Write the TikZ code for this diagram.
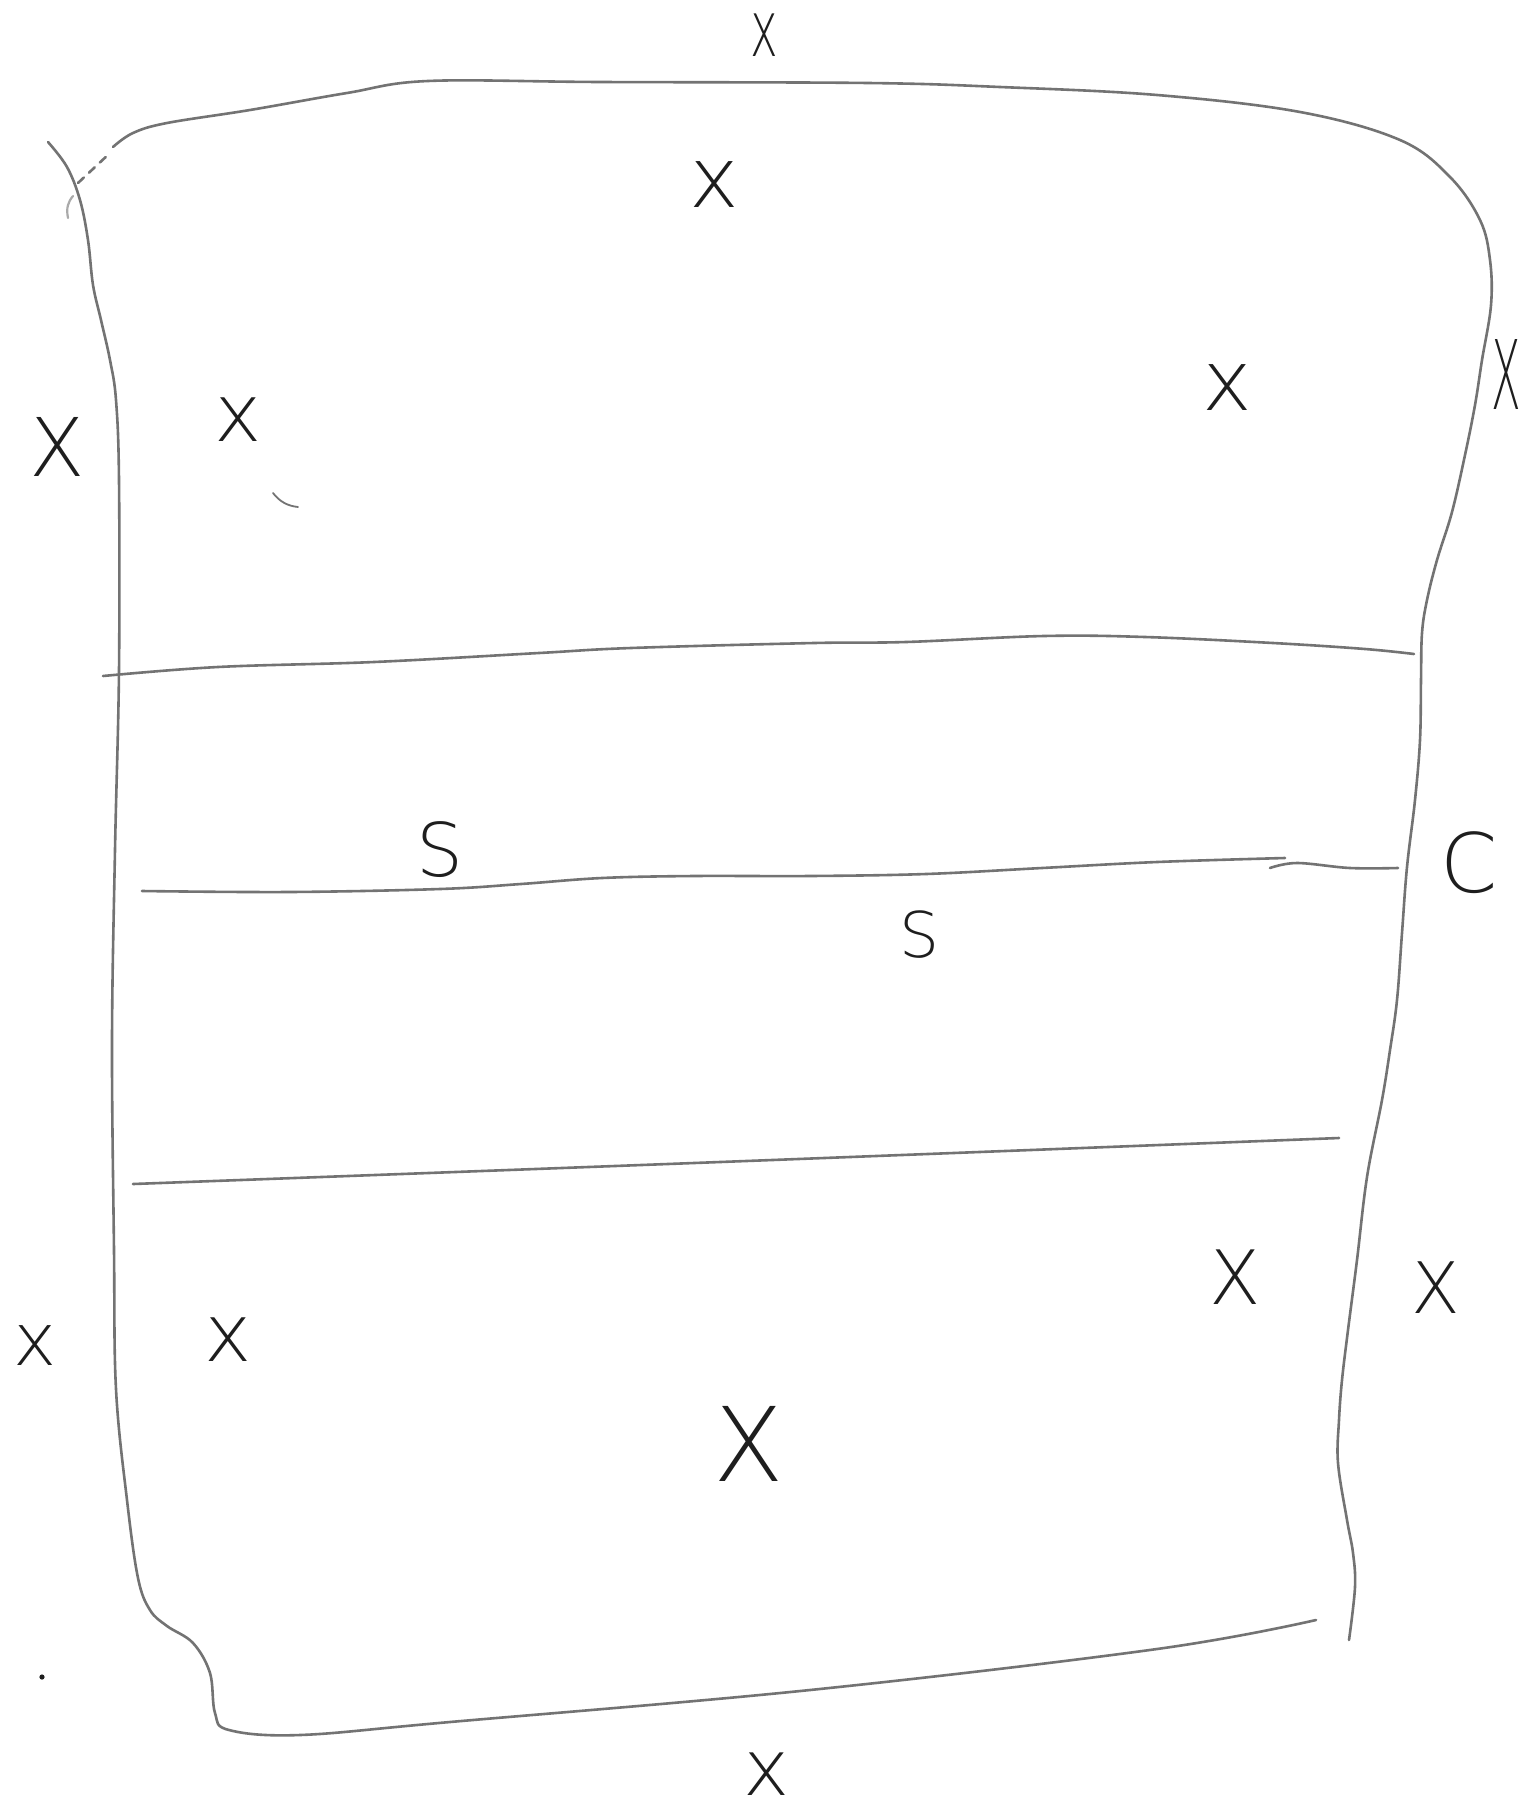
\documentclass[tikz,border=0pt]{standalone}
\usepackage{fontspec}
\newfontfamily\hand{DejaVu Sans ExtraLight}
\definecolor{linegray}{RGB}{115,115,115}
\definecolor{lightline}{RGB}{170,170,170}
\definecolor{ink}{RGB}{30,30,30}
\newcommand\hsz[1]{\fontsize{#1}{#1}\selectfont}
\tikzset{
  edge/.style={draw=linegray, line width=2.6pt, line cap=round, line join=round},
  faint/.style={draw=lightline, line width=2.2pt, line cap=round},
  lbl/.style={inner sep=0pt, outer sep=0pt, text=ink, anchor=center}
}
\begin{document}
\begin{tikzpicture}[x=1pt,y=-1pt]
\useasboundingbox (0,0) rectangle (1522,1815);
\fill[white] (0,0) rectangle (1522,1815);

% left side and bottom
\draw[edge] plot[smooth, tension=0.6] coordinates {
 (48,142) (67,167) (80,200) (88,240) (93,285) (101,320) (110,360) (116,400)
 (119,480) (119,671) (115,850) (112,1042) (114,1250) (116,1389) (127,1500)
 (138,1578) (150,1610) (167,1626) (193,1643) (210,1673) (215,1713) (229,1730)
 (300,1735) (450,1722) (810,1690) (1157,1649) (1316,1620)};

% top and right side
\draw[edge, dashed, dash pattern=on 8pt off 7pt] (78,183) -- (110,153);
\draw[edge] plot[smooth, tension=0.6] coordinates {
 (113,147) (133,133) (167,123) (250,110) (347,93) (428,81) (600,82) (868,83) (1000,87)
 (1157,95) (1300,112) (1400,140) (1450,177) (1480,220) (1490,260) (1491,305)
 (1482,360) (1475,405) (1465,455) (1452,512) (1437,560) (1427,600) (1422,633)
 (1421,680) (1420,740) (1415,800) (1407,867) (1402,933) (1397,1000) (1390,1050)
 (1382,1100) (1367,1177) (1357,1260) (1348,1330) (1342,1380) (1339,1420)
 (1338,1463) (1347,1520) (1353,1553) (1355,1587) (1349,1640)};

% small faint hook at top left
\draw[faint] (68,218) .. controls (66,208) and (68,202) .. (73,196);

% horizontal lines
\draw[edge] plot[smooth, tension=0.6] coordinates {
 (103,676) (218,667) (374,662) (539,653) (631,648) (814,643) (906,642)
 (1044,636) (1145,637) (1273,643) (1365,649) (1414,654)};
\draw[edge] plot[smooth, tension=0.6] coordinates {
 (142,891) (289,892) (440,889) (521,884) (602,878) (694,876) (810,876)
 (926,874) (1042,868) (1157,862) (1285,858)};
\draw[edge] plot[smooth, tension=0.6] coordinates {
 (1270,868) (1297,863) (1350,868) (1398,868)};
\draw[edge] plot[smooth, tension=0.6] coordinates {
 (133,1184) (694,1163) (1339,1138)};

% small tick and dot
\draw[faint, draw=linegray, line width=1.8pt] (273,493) .. controls (280,502) and (288,506) .. (298,507);
\fill[ink] (42,1677) circle (2.6);

% labels
\node[lbl, font=\hand\hsz{78}] (xtop) at (764,35) {\scalebox{0.6}[1]{x}};
\node[lbl, font=\hand\hsz{84}] (xa) at (714,185) {x};
\node[lbl, font=\hand\hsz{84}] (xb) at (1227,388) {x};
\node[lbl, font=\hand\hsz{96}] (xright) at (1506,375) {\scalebox{0.45}[1]{X}};
\node[lbl, font=\hand\hsz{81}] (xleft) at (57,447) {X};
\node[lbl, font=\hand\hsz{80}] (xc) at (238,420) {x};
\node[lbl, font=\hand\hsz{74}] (s1) at (440,850) {S};
\node[lbl, font=\hand\hsz{63}] (s2) at (919,935) {S};
\node[lbl, font=\hand\hsz{82}] (c) at (1469,863) {C};
\node[lbl, font=\hand\hsz{73}] (xd) at (35,1346) {x};
\node[lbl, font=\hand\hsz{80}] (xe) at (228,1340) {x};
\node[lbl, font=\hand\hsz{75}] (xf) at (1235,1277) {X};
\node[lbl, font=\hand\hsz{71}] (xg) at (1436,1288) {X};
\node[lbl, font=\hand\hsz{103}] (xh) at (749,1444) {X};
\node[lbl, font=\hand\hsz{78}] (xbot) at (767,1774) {x};
\end{tikzpicture}
\end{document}
